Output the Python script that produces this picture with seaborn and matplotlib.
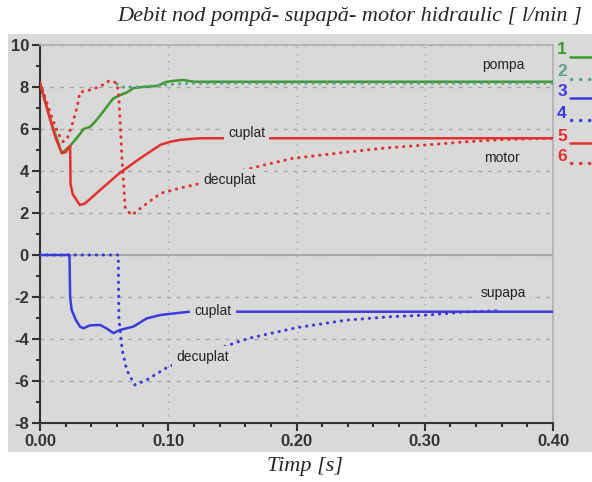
import matplotlib
matplotlib.use("Agg")
import matplotlib.pyplot as plt
from matplotlib.patches import Rectangle
from matplotlib.ticker import MultipleLocator, FormatStrFormatter
import seaborn as sns
import pandas as pd
import numpy as np

# ---- data (time in s, flow in l/min) ----
t_pompa_c = [0, 0.008, 0.017, 0.0235, 0.027, 0.031, 0.034, 0.039, 0.043, 0.047, 0.052,
             0.057, 0.062, 0.068, 0.073, 0.08, 0.091, 0.099, 0.105, 0.112, 0.12, 0.4]
q_pompa_c = [8.2, 6.45, 4.85, 5.2, 5.45, 5.75, 6.0, 6.1, 6.35, 6.65, 7.05,
             7.45, 7.6, 7.75, 7.95, 8.0, 8.05, 8.25, 8.3, 8.33, 8.25, 8.25]

t_pompa_d = [0.06, 0.065, 0.075, 0.09, 0.1, 0.12, 0.4]
q_pompa_d = [8.15, 8.0, 8.0, 8.05, 8.12, 8.18, 8.18]

t_supapa_c = [0, 0.023, 0.0235, 0.0247, 0.028, 0.0312, 0.0338, 0.039, 0.0468, 0.052,
              0.0572, 0.0624, 0.0728, 0.0832, 0.0936, 0.109, 0.117, 0.4]
q_supapa_c = [0, 0, -2.0, -2.62, -3.1, -3.41, -3.49, -3.35, -3.33, -3.5,
              -3.72, -3.57, -3.41, -3.02, -2.86, -2.75, -2.7, -2.7]

t_supapa_d = [0, 0.061, 0.0615, 0.064, 0.0676, 0.074, 0.0832, 0.1, 0.1546, 0.164,
              0.2, 0.239, 0.273, 0.3015, 0.33, 0.36]
q_supapa_d = [0, 0, -3.0, -4.5, -5.48, -6.19, -5.95, -5.32, -4.13, -3.95,
              -3.46, -3.1, -2.94, -2.86, -2.72, -2.65]

t_motor_c = [0, 0.004, 0.008, 0.012, 0.017, 0.020, 0.0235, 0.0238, 0.0255, 0.031,
             0.035, 0.047, 0.062, 0.078, 0.094, 0.102, 0.109, 0.118, 0.125, 0.4]
q_motor_c = [8.2, 7.3, 6.45, 5.6, 4.85, 4.9, 5.2, 3.4, 2.9, 2.38,
             2.45, 3.1, 3.9, 4.6, 5.25, 5.4, 5.48, 5.53, 5.56, 5.56]

t_motor_d = [0, 0.004, 0.009, 0.014, 0.018, 0.021, 0.025, 0.029, 0.031, 0.035, 0.039,
             0.047, 0.052, 0.056, 0.06, 0.0615, 0.064, 0.0665, 0.0715, 0.08, 0.094,
             0.11, 0.125, 0.15, 0.175, 0.197, 0.242, 0.27, 0.301, 0.33, 0.361, 0.4]
q_motor_d = [8.2, 7.5, 6.6, 5.8, 5.4, 5.5, 6.2, 7.05, 7.75, 7.8, 7.86,
             8.02, 8.25, 8.3, 8.17, 7.5, 4.5, 2.2, 1.9, 2.3, 2.94,
             3.2, 3.41, 3.9, 4.29, 4.6, 4.92, 5.1, 5.24, 5.38, 5.5, 5.56]

# label text, position (t, q)
annot_text = ["pompa", "cuplat", "decuplat", "motor", "supapa", "cuplat", "decuplat"]
annot_t = [0.361, 0.161, 0.148, 0.360, 0.361, 0.135, 0.127]
annot_q = [9.05, 5.8, 3.57, 4.62, -1.81, -2.67, -4.86]

legend_ids = ["1", "2", "3", "4", "5", "6"]

GREEN = "#3c9a2a"
TEAL = "#5aa489"
BLUE = "#3b3bdc"
RED = "#e2312e"
BG = "#d9d9d9"

series = [
    (t_pompa_c, q_pompa_c, GREEN, "-"),
    (t_pompa_d, q_pompa_d, TEAL, ":"),
    (t_supapa_c, q_supapa_c, BLUE, "-"),
    (t_supapa_d, q_supapa_d, BLUE, ":"),
    (t_motor_c, q_motor_c, RED, "-"),
    (t_motor_d, q_motor_d, RED, ":"),
]

sns.set_style("ticks")
plt.rcParams["font.family"] = ["Liberation Sans", "DejaVu Sans"]
plt.rcParams["axes.unicode_minus"] = False

fig = plt.figure(figsize=(5.92, 4.82), dpi=100)
fig.patch.set_facecolor("white")
# grey panel behind the whole chart
fig.patches.append(Rectangle((8 / 592, 1 - 452 / 482), 1 - 8 / 592, (452 - 34) / 482,
                             transform=fig.transFigure, facecolor=BG, edgecolor="none", zorder=-5))
ax = fig.add_axes([40 / 592, 1 - 423 / 482, 513 / 592, 378 / 482])
ax.set_zorder(2)
ax.set_facecolor(BG)

# grid
ax.set_axisbelow(True)
ax.yaxis.grid(True, linestyle=(0, (3, 4)), color="#a8a8a8", linewidth=1)
ax.xaxis.grid(True, linestyle=(0, (1, 4)), color="#a8a8a8", linewidth=1)
ax.axhline(0, color="#a0a0a0", linewidth=1.2, zorder=1)

for t, q, col, ls in series:
    df = pd.DataFrame({"t": t, "q": q})
    if ls == "-":
        sns.lineplot(data=df, x="t", y="q", ax=ax, color=col, linewidth=1.8,
                     estimator=None, sort=False, zorder=3)
    else:
        sns.lineplot(data=df, x="t", y="q", ax=ax, color=col, linewidth=2.2,
                     estimator=None, sort=False, zorder=3,
                     linestyle=(0, (0.1, 2.2)), dash_capstyle="round")

for txt, tx, qy in zip(annot_text, annot_t, annot_q):
    ax.text(tx, qy, txt, fontsize=10, color="#222222", ha="center", va="center", zorder=5,
            bbox=dict(facecolor=BG, edgecolor="none", pad=3))

# numbered legend on the right
leg_cols = [GREEN, TEAL, BLUE, BLUE, RED, RED]
leg_y = [0.987, 0.929, 0.877, 0.820, 0.759, 0.706]
for i, (lab, col) in enumerate(zip(legend_ids, leg_cols)):
    ax.text(1.0175, leg_y[i], lab, transform=ax.transAxes, color=col, fontsize=12.5,
            fontweight="bold", ha="center", va="center", clip_on=False)
    y_line = leg_y[i] - 0.018
    if i % 2 == 0:
        ax.plot([1.033, 1.08], [y_line, y_line], transform=ax.transAxes, color=col,
                linewidth=1.8, clip_on=False)
    else:
        ax.plot([1.035, 1.08], [y_line, y_line], transform=ax.transAxes, color=col,
                linewidth=2.4, linestyle=(0, (0.1, 2.6)), dash_capstyle="round", clip_on=False)

ax.set_xlim(0, 0.4)
ax.set_ylim(-8, 10)
ax.xaxis.set_major_locator(MultipleLocator(0.1))
ax.xaxis.set_minor_locator(MultipleLocator(0.02))
ax.xaxis.set_major_formatter(FormatStrFormatter("%.2f"))
ax.yaxis.set_major_locator(MultipleLocator(2))
ax.yaxis.set_minor_locator(MultipleLocator(1))
ax.tick_params(which="major", direction="out", length=6, width=1.5, color="#333333",
               labelsize=12, labelcolor="#333333", pad=2)
ax.tick_params(which="minor", direction="out", length=3, width=1.5, color="#333333")
for lbl in ax.get_xticklabels() + ax.get_yticklabels():
    lbl.set_fontweight("bold")
ax.set_xlabel("")
ax.set_ylabel("")

for side in ["left", "bottom"]:
    ax.spines[side].set_color("#333333")
    ax.spines[side].set_linewidth(1.5)
for side in ["top", "right"]:
    ax.spines[side].set_visible(True)
    ax.spines[side].set_color("#b0b0b0")
    ax.spines[side].set_linewidth(1.2)

fig.text(350 / 592, 1 - 17 / 482, "Debit nod pompă- supapă- motor hidraulic [ l/min ]",
         family=["Liberation Serif", "DejaVu Serif"], style="italic", fontsize=16,
         ha="center", va="center")
fig.text(305 / 592, 1 - 467 / 482, "Timp [s]", family=["Liberation Serif", "DejaVu Serif"],
         style="italic", fontsize=16, ha="center", va="center")

fig.savefig("out.png", dpi=100)
